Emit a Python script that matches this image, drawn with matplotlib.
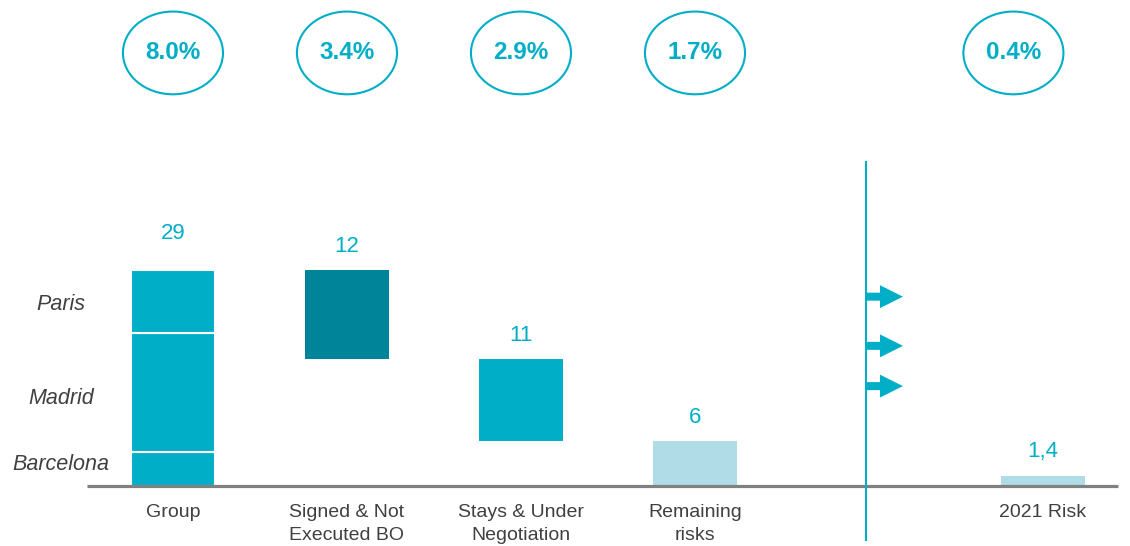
import matplotlib.pyplot as plt
from matplotlib.patches import Ellipse

plt.rcParams['font.family'] = ['Liberation Sans', 'DejaVu Sans']

# Data
categories = ['Group', 'Signed & Not\nExecuted BO', 'Stays & Under\nNegotiation', 'Remaining\nrisks', '2021 Risk']
values = [29, 12, 11, 6, 1.4]
value_labels = ['29', '12', '11', '6', '1,4']
cities = ['Barcelona', 'Madrid', 'Paris']
city_values = [4.5, 16, 8.5]
pct_labels = ['8.0%', '3.4%', '2.9%', '1.7%', '0.4%']

teal = '#00AEC7'
dark_teal = '#00849A'
light_teal = '#B0DCE8'
grey_txt = '#404040'

xpos = [0, 1, 2, 3, 5]
pct_x = [0, 1, 2, 3, 4.83]
bar_w = 0.48
city_label_y = [2.95, 11.8, 24.3]

# waterfall bottoms: Signed and Stays step down from the group total
bottoms = [0, values[0] - values[1], values[0] - values[1] - values[2], 0, 0]
colors = [teal, dark_teal, teal, light_teal, light_teal]

fig = plt.figure(figsize=(11.3, 5.46), dpi=100)
ax = fig.add_axes([0, 0, 1, 1])
ax.set_xlim(-0.994, 5.5)
ax.set_ylim(-8.05, 65.2)
ax.axis('off')

# Group stacked by city
b = 0
for city, v, ly in zip(cities, city_values, city_label_y):
    ax.bar(xpos[0], v, bottom=b, width=bar_w, color=teal, edgecolor='white', linewidth=1.5)
    ax.text(-0.644, ly, city, ha='center', va='center', fontsize=15.5,
            style='italic', color=grey_txt)
    b += v

for i in range(1, len(values)):
    ax.bar(xpos[i], values[i], bottom=bottoms[i], width=bar_w, color=colors[i], linewidth=0)

# value labels above bars
for i, (v, lab) in enumerate(zip(values, value_labels)):
    top = bottoms[i] + v
    off = 26 if i == 0 else 17
    ax.annotate(lab, (xpos[i], top), xytext=(0, off), textcoords='offset points',
                ha='center', va='center', fontsize=16, color=teal)

# category labels
for x, c in zip(xpos, categories):
    ax.text(x, -2.4, c, ha='center', va='top', fontsize=14, color=grey_txt, linespacing=1.45)

# baseline
ax.plot([-0.494, 5.43], [0, 0], color='#808080', linewidth=2.3, solid_capstyle='butt')

# separator and arrows
ax.plot([3.98, 3.98], [-7.25, 43.5], color=teal, linewidth=1.5)
for y in [25.4, 18.8, 13.4]:
    ax.annotate('', xy=(4.195, y), xytext=(3.98, y),
                arrowprops=dict(arrowstyle='simple,head_length=1.0,head_width=1.0,tail_width=0.35',
                                mutation_scale=16.5, color=teal, shrinkA=0, shrinkB=0, lw=0))

# percentage circles
for x, p in zip(pct_x, pct_labels):
    ax.add_patch(Ellipse((x, 58.1), 0.575, 11.1, fill=False, edgecolor=teal, linewidth=1.5))
    ax.text(x, 58.1, p, ha='center', va='center', fontsize=17.5, fontweight='bold', color=teal)

fig.savefig('out.png', dpi=100)
